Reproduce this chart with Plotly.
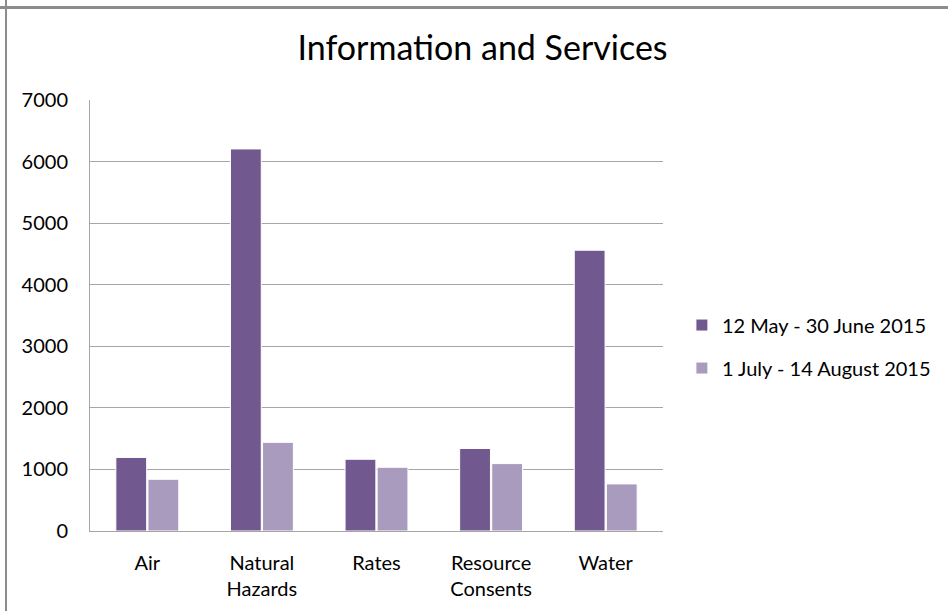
import plotly.graph_objects as go

categories = ["Air", "Natural<br>Hazards", "Rates", "Resource<br>Consents", "Water"]
series_names = ["12 May - 30 June 2015", "1 July - 14 August 2015"]
period1 = [1195, 6205, 1165, 1340, 4560]
period2 = [840, 1440, 1035, 1095, 765]
y_ticks = [0, 1000, 2000, 3000, 4000, 5000, 6000, 7000]

colors = ["#71588F", "#A99BBD"]
FONT = "Lato"

fig = go.Figure()
for name, vals, col, grp in zip(series_names, [period1, period2], colors, ["a", "b"]):
    fig.add_trace(go.Bar(
        x=categories, y=vals, name=name, legendgroup=grp,
        marker=dict(color=col, line=dict(color="white", width=1)),
    ))

fig.update_layout(
    width=948, height=611,
    margin=dict(l=90, r=285, t=100, b=80),
    paper_bgcolor="white", plot_bgcolor="white",
    font=dict(family=FONT, size=20, color="#000000"),
    title=dict(text="Information and Services", x=0.509, xref="container",
               y=1 - 48 / 611, yref="container", xanchor="center", yanchor="middle",
               font=dict(family=FONT, size=34, color="#000000")),
    barmode="group", bargap=0.44, bargroupgap=0.04,
    legend=dict(x=1.033, xanchor="left", y=0.428, yanchor="middle",
                font=dict(family=FONT, size=20, color="#000000"),
                tracegroupgap=14, bgcolor="rgba(0,0,0,0)"),
    showlegend=True,
)
fig.update_yaxes(range=[0, 7000], tickvals=y_ticks, showgrid=True, gridcolor="#A6A6A6",
                 gridwidth=1, showline=True, linecolor="#A6A6A6", linewidth=1,
                 ticks="", ticklen=0, zeroline=False, tickfont=dict(color="#000000", size=20),
                 ticklabelstandoff=17)
fig.update_xaxes(showline=True, linecolor="#A6A6A6", linewidth=1, ticks="",
                 tickfont=dict(color="#000000", size=20), ticklabelstandoff=14)

# outer frame lines (top and left)
fig.add_shape(type="line", xref="paper", yref="paper", x0=-90/573, x1=(948-90)/573,
              y0=(611-80-7.5)/431, y1=(611-80-7.5)/431, line=dict(color="#8C8C8C", width=3))
fig.add_shape(type="line", xref="paper", yref="paper", x0=(6-90)/573, x1=(6-90)/573,
              y0=-80/431, y1=(611-80)/431, line=dict(color="#8C8C8C", width=2))

fig.write_html("out.html", config={"displayModeBar": False},
               post_script="document.body.style.margin='0';")
